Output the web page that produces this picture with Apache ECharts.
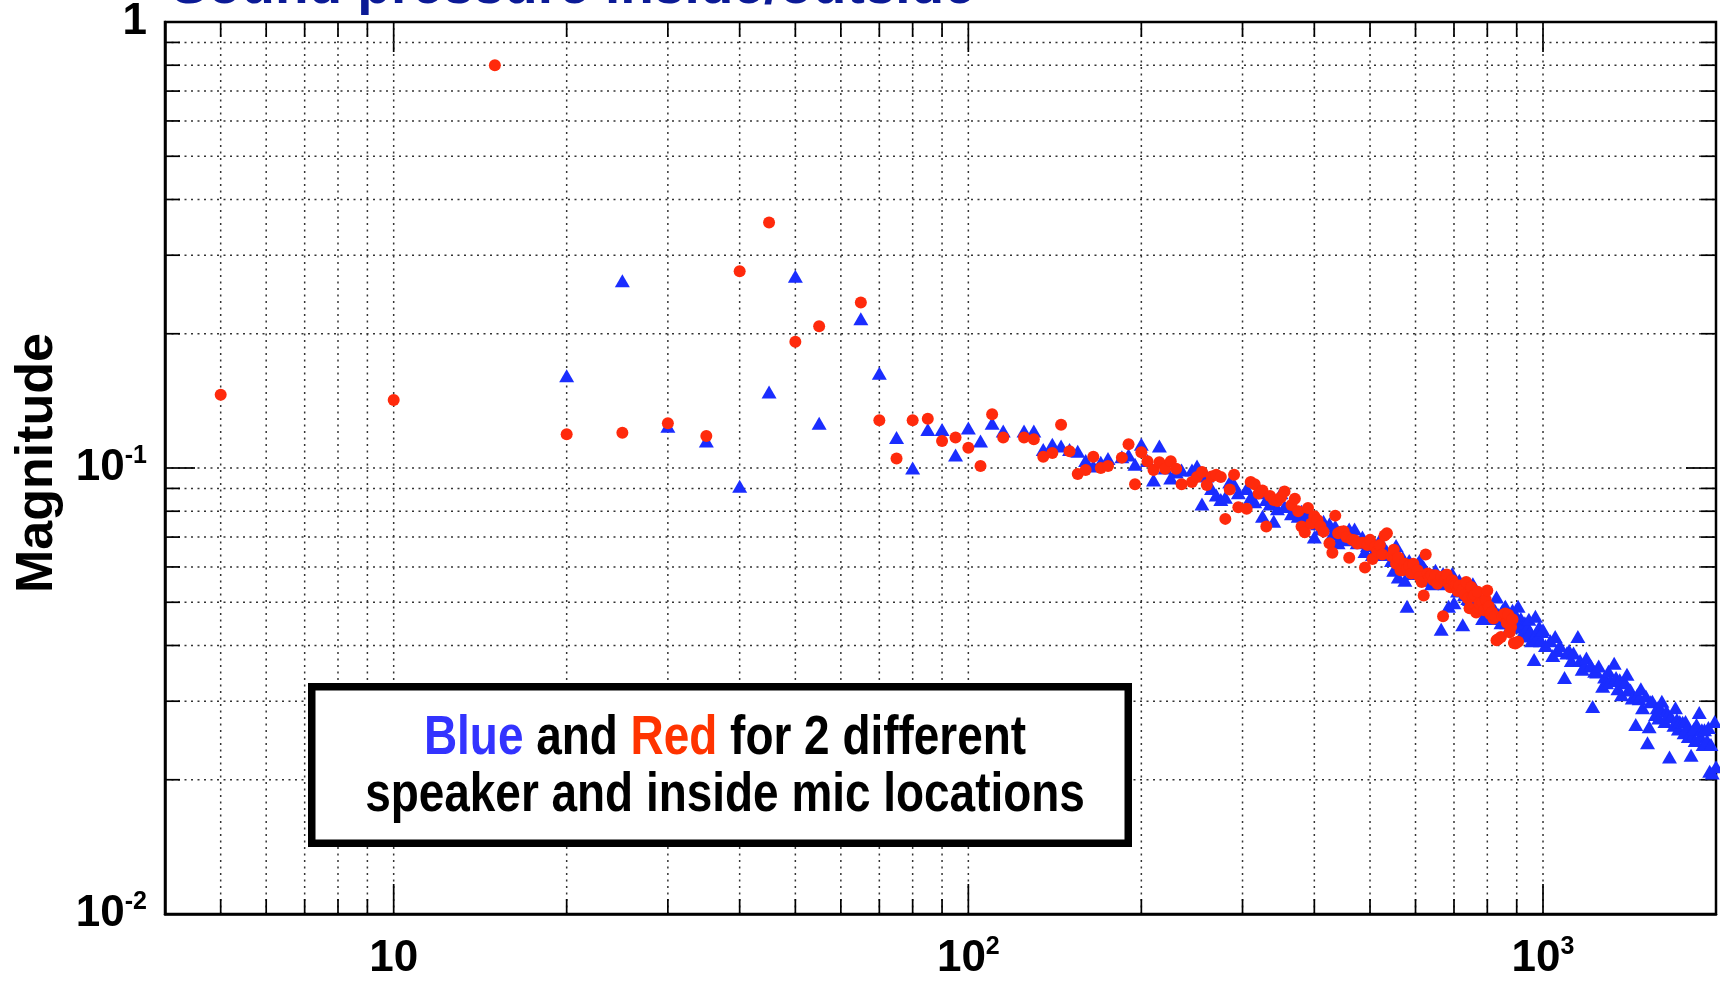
<!DOCTYPE html>
<html>
<head>
<meta charset="utf-8">
<title>Sound pressure inside/outside</title>
<script src="https://cdn.jsdelivr.net/npm/echarts@6/dist/echarts.min.js"></script>
<style>
  html, body { margin: 0; padding: 0; background: #fff; }
  #main { width: 1720px; height: 982px; }
</style>
</head>
<body>
<div id="main"></div>
<script>
// Frequency bins (Hz) and measured magnitudes, 5 Hz bins (10 Hz above 1 kHz),
// mains harmonics (multiples of 60 Hz) left out.
const blueHz = [
  20, 25, 30, 35, 40, 45, 50, 55,
  65, 70, 75, 80, 85, 90, 95, 100, 105, 110, 115,
  125, 130, 135, 140, 145, 150, 155, 160, 165, 170, 175,
  185, 190, 195, 200, 205, 210, 215, 220, 225, 230, 235,
  245, 250, 255, 260, 265, 270, 275, 280, 285, 290, 295,
  305, 310, 315, 320, 325, 330, 335, 340, 345, 350, 355,
  365, 370, 375, 380, 385, 390, 395, 400, 405, 410, 415,
  425, 430, 435, 440, 445, 450, 455, 460, 465, 470, 475,
  485, 490, 495, 500, 505, 510, 515, 520, 525, 530, 535,
  545, 550, 555, 560, 565, 570, 575, 580, 585, 590, 595,
  605, 610, 615, 620, 625, 630, 635, 640, 645, 650, 655,
  665, 670, 675, 680, 685, 690, 695, 700, 705, 710, 715,
  725, 730, 735, 740, 745, 750, 755, 760, 765, 770, 775,
  785, 790, 795, 800, 805, 810, 815, 820, 825, 830, 835,
  845, 850, 855, 860, 865, 870, 875, 880, 885, 890, 895,
  905, 910, 915, 920, 925, 930, 935, 940, 945, 950, 955,
  965, 970, 975, 980, 985, 990, 995, 1000,
  1010, 1030, 1040, 1050, 1060, 1070,
  1090, 1100, 1110, 1120, 1130,
  1150, 1160, 1170, 1180, 1190,
  1210, 1220, 1230, 1240, 1250,
  1270, 1280, 1290, 1300, 1310,
  1330, 1340, 1350, 1360, 1370,
  1390, 1400, 1410, 1420, 1430,
  1450, 1460, 1470, 1480, 1490,
  1510, 1520, 1530, 1540, 1550,
  1570, 1580, 1590, 1600, 1610,
  1630, 1640, 1650, 1660, 1670,
  1690, 1700, 1710, 1720, 1730,
  1750, 1760, 1770, 1780, 1790,
  1810, 1820, 1830, 1840, 1850,
  1870, 1880, 1890, 1900, 1910,
  1930, 1940, 1950, 1960, 1970,
  1990, 2000
];
const blueMag = [
  0.161, 0.263, 0.124, 0.115, 0.091, 0.148, 0.269, 0.126,
  0.216, 0.163, 0.117, 0.100, 0.122, 0.122, 0.107, 0.123, 0.115, 0.126, 0.121,
  0.121, 0.121, 0.110, 0.113, 0.112, 0.110, 0.109, 0.104, 0.101, 0.103, 0.105,
  0.106, 0.107, 0.102, 0.113, 0.104, 0.094, 0.112, 0.100, 0.095, 0.098, 0.099,
  0.099, 0.101, 0.083, 0.096, 0.090, 0.087, 0.085, 0.086, 0.093, 0.092, 0.088,
  0.090, 0.086, 0.084, 0.088, 0.078, 0.085, 0.083, 0.076, 0.081, 0.088, 0.082,
  0.079, 0.081, 0.078, 0.080, 0.0765, 0.079, 0.077, 0.070, 0.075, 0.073, 0.076,
  0.075, 0.071, 0.074, 0.068, 0.070, 0.072, 0.069, 0.073, 0.071, 0.073, 0.068,
  0.070, 0.065, 0.067, 0.068, 0.064, 0.067, 0.066, 0.069, 0.064, 0.066, 0.065,
  0.062, 0.059, 0.067, 0.057, 0.061, 0.063, 0.056, 0.049, 0.062, 0.060, 0.058,
  0.061, 0.062, 0.058, 0.060, 0.059, 0.056, 0.058, 0.055, 0.057, 0.059, 0.056,
  0.0435, 0.058, 0.055, 0.057, 0.049, 0.056, 0.058, 0.0499, 0.055, 0.053, 0.056,
  0.0445, 0.052, 0.054, 0.051, 0.0507, 0.053, 0.055, 0.050, 0.052, 0.049, 0.050,
  0.046, 0.051, 0.049, 0.048, 0.050, 0.047, 0.049, 0.046, 0.048, 0.0514, 0.047,
  0.045, 0.048, 0.046, 0.049, 0.045, 0.047, 0.044, 0.046, 0.048, 0.045, 0.047,
  0.049, 0.044, 0.046, 0.0447, 0.043, 0.045, 0.042, 0.044, 0.0458, 0.043, 0.041,
  0.0372, 0.0465, 0.0427, 0.042, 0.044, 0.041, 0.043, 0.0434,
  0.040, 0.041, 0.038, 0.0419, 0.039, 0.040,
  0.0339, 0.0385, 0.039, 0.037, 0.0385,
  0.0419, 0.037, 0.0354, 0.036, 0.0375,
  0.0361, 0.0292, 0.035, 0.0349, 0.036,
  0.0324, 0.034, 0.033, 0.035, 0.0334,
  0.0365, 0.0339, 0.032, 0.0335, 0.031,
  0.033, 0.0345, 0.032, 0.0318, 0.0305,
  0.0266, 0.031, 0.0304, 0.032, 0.029,
  0.0308, 0.0242, 0.0263, 0.0299, 0.030,
  0.028, 0.029, 0.0275, 0.0289, 0.030,
  0.027, 0.0285, 0.028, 0.0225, 0.0277,
  0.0265, 0.029, 0.0273, 0.026, 0.027,
  0.0269, 0.0255, 0.027, 0.0262, 0.025,
  0.0227, 0.025, 0.026, 0.0245, 0.0266,
  0.0283, 0.025, 0.0259, 0.024, 0.0259,
  0.0245, 0.0262, 0.0209, 0.024, 0.0207,
  0.027, 0.0214
];

const redHz = [
  5, 10, 15, 20, 25, 30, 35, 40, 45, 50, 55,
  65, 70, 75, 80, 85, 90, 95, 100, 105, 110, 115,
  125, 130, 135, 140, 145, 150, 155, 160, 165, 170, 175,
  185, 190, 195, 200, 205, 210, 215, 220, 225, 230, 235,
  245, 250, 255, 260, 265, 270, 275, 280, 285, 290, 295,
  305, 310, 315, 320, 325, 330, 335, 340, 345, 350, 355,
  365, 370, 375, 380, 385, 390, 395, 400, 405, 410, 415,
  425, 430, 435, 440, 445, 450, 455, 460, 465, 470, 475,
  485, 490, 495, 500, 505, 510, 515, 520, 525, 530, 535,
  545, 550, 555, 560, 565, 570, 575, 580, 585, 590, 595,
  605, 610, 615, 620, 625, 630, 635, 640, 645, 650, 655,
  665, 670, 675, 680, 685, 690, 695, 700, 705, 710, 715,
  725, 730, 735, 740, 745, 750, 755, 760, 765, 770, 775,
  785, 790, 795, 800, 805, 810, 815, 820, 825, 830, 835,
  845, 850, 855, 860, 865, 870, 875, 880, 885, 890, 895,
  905
];
const redMag = [
  0.146, 0.142, 0.80, 0.119, 0.120, 0.126, 0.118, 0.276, 0.355, 0.192, 0.208,
  0.235, 0.128, 0.105, 0.128, 0.129, 0.115, 0.117, 0.111, 0.101, 0.132, 0.117,
  0.117, 0.116, 0.106, 0.108, 0.125, 0.109, 0.097, 0.099, 0.106, 0.100, 0.101,
  0.1055, 0.113, 0.092, 0.1085, 0.1035, 0.099, 0.103, 0.0996, 0.1035, 0.0996, 0.092,
  0.093, 0.0955, 0.098, 0.0916, 0.0957, 0.0966, 0.0955, 0.0769, 0.0895, 0.0966, 0.0817,
  0.081, 0.093, 0.092, 0.0877, 0.089, 0.0739, 0.0865, 0.0848, 0.0843, 0.086, 0.0886,
  0.0826, 0.0853, 0.080, 0.0739, 0.0718, 0.0813, 0.0751, 0.078, 0.0765, 0.074, 0.072,
  0.0678, 0.0646, 0.0782, 0.0714, 0.072, 0.0721, 0.070, 0.0629, 0.069, 0.0689, 0.0677,
  0.068, 0.0598, 0.0672, 0.069, 0.0625, 0.0666, 0.065, 0.0672, 0.064, 0.0706, 0.0714,
  0.0635, 0.0656, 0.061, 0.063, 0.059, 0.059, 0.061, 0.0595, 0.0604, 0.058, 0.061,
  0.059, 0.057, 0.0555, 0.0518, 0.064, 0.058, 0.057, 0.0575, 0.056, 0.0575, 0.055,
  0.057, 0.0465, 0.056, 0.0577, 0.055, 0.054, 0.056, 0.055, 0.0545, 0.053, 0.0545,
  0.0535, 0.052, 0.0555, 0.051, 0.0485, 0.0541, 0.0515, 0.052, 0.0474, 0.0528, 0.0497,
  0.050, 0.048, 0.0507, 0.0531, 0.0489, 0.047, 0.0475, 0.046, 0.0465, 0.0411, 0.0413,
  0.0418, 0.0465, 0.047, 0.0472, 0.045, 0.0469, 0.0428, 0.044, 0.0458, 0.0405, 0.0404,
  0.0408
];

// Axis ranges and grid/tick positions
const xRange = [4, 2000];
const yRange = [0.01, 1];
const xMajorTicks = [10, 100, 1000];
const xMinorTicks = [5, 6, 7, 8, 9, 20, 30, 40, 50, 60, 70, 80, 90,
                     200, 300, 400, 500, 600, 700, 800, 900];
const yMajorTicks = [0.1];
const yMinorTicks = [0.02, 0.03, 0.04, 0.05, 0.06, 0.07, 0.08, 0.09,
                     0.2, 0.3, 0.4, 0.5, 0.6, 0.7, 0.8, 0.9];

const titleText = 'Sound pressure inside/outside';
const yAxisTitle = 'Magnitude';

const BOLD = '"Liberation Sans", Arial, Helvetica, sans-serif';

// guide items: [x, y, kind]  kind 0/1 = vertical minor/major, 2/3 = horizontal minor/major
const guides = []
  .concat(xMinorTicks.map(v => [v, yRange[0], 0]))
  .concat(xMajorTicks.map(v => [v, yRange[0], 1]))
  .concat(yMinorTicks.map(v => [xRange[0], v, 2]))
  .concat(yMajorTicks.map(v => [xRange[0], v, 3]));

function renderGuide(params, api) {
  const kind = api.value(2);
  const dotted = { stroke: '#333', lineWidth: 1.5, lineDash: [2, 4.5] };
  const solid = { stroke: '#000', lineWidth: 1.7 };
  const len = (kind === 1 || kind === 3) ? 30 : 15;
  let a, b;
  if (kind < 2) {
    const v = api.value(0);
    a = api.coord([v, yRange[0]]);
    b = api.coord([v, yRange[1]]);
    return {
      type: 'group',
      children: [
        { type: 'line', shape: { x1: a[0], y1: a[1], x2: b[0], y2: b[1] }, style: dotted },
        { type: 'line', shape: { x1: a[0], y1: a[1], x2: a[0], y2: a[1] - len }, style: solid },
        { type: 'line', shape: { x1: b[0], y1: b[1], x2: b[0], y2: b[1] + len }, style: solid }
      ]
    };
  }
  const v = api.value(1);
  a = api.coord([xRange[0], v]);
  b = api.coord([xRange[1], v]);
  return {
    type: 'group',
    children: [
      { type: 'line', shape: { x1: a[0], y1: a[1], x2: b[0], y2: b[1] }, style: dotted },
      { type: 'line', shape: { x1: a[0], y1: a[1], x2: a[0] + len, y2: a[1] }, style: solid },
      { type: 'line', shape: { x1: b[0], y1: b[1], x2: b[0] - len, y2: b[1] }, style: solid }
    ]
  };
}

// "10" with a superscript exponent
function powerLabel(v) {
  const lg = Math.log10(v);
  const e = Math.round(lg);
  if (Math.abs(lg - e) > 1e-6) return '';
  if (e === 0) return '{b|1}';
  if (e === 1) return '{b|10}';
  return '{b|10}{s|' + e + '}';
}
const powerRich = {
  b: { fontFamily: BOLD, fontWeight: 'bold', fontSize: 44, color: '#000', lineHeight: 48 },
  s: { fontFamily: BOLD, fontWeight: 'bold', fontSize: 25, color: '#000', lineHeight: 22, verticalAlign: 'top' }
};

const legendFont = { fontFamily: BOLD, fontWeight: 'bold', fontSize: 56, lineHeight: 57 };

const chart = echarts.init(document.getElementById('main'), null, { renderer: 'canvas' });

chart.setOption({
  animation: false,
  backgroundColor: '#fff',
  grid: {
    left: 165, right: 4, top: 22, bottom: 68,
    show: true, borderColor: '#000', borderWidth: 2.5, backgroundColor: '#fff'
  },
  xAxis: {
    type: 'log', logBase: 10, min: xRange[0], max: xRange[1],
    axisLine: { show: true, lineStyle: { color: '#000', width: 2.5 } },
    axisTick: { show: false },
    splitLine: { show: false },
    axisLabel: { formatter: powerLabel, rich: powerRich, margin: 21 }
  },
  yAxis: {
    type: 'log', logBase: 10, min: yRange[0], max: yRange[1],
    axisLine: { show: true, lineStyle: { color: '#000', width: 2.5 } },
    axisTick: { show: false },
    splitLine: { show: false },
    axisLabel: { formatter: powerLabel, rich: powerRich, margin: 18 }
  },
  series: [
    {
      type: 'custom', name: 'guides', data: guides, renderItem: renderGuide,
      encode: { x: 0, y: 1 }, z: 1, silent: true
    },
    {
      type: 'scatter', name: 'Blue', z: 3,
      data: blueHz.map((f, i) => [f, blueMag[i]]),
      symbol: 'triangle', symbolSize: [15, 13],
      itemStyle: { color: '#1a2dff', opacity: 1 }
    },
    {
      type: 'scatter', name: 'Red', z: 4,
      data: redHz.map((f, i) => [f, redMag[i]]),
      symbol: 'circle', symbolSize: 12,
      itemStyle: { color: '#ff2a0c', opacity: 1 }
    }
  ],
  graphic: [
    {
      type: 'text', x: 171, y: -12, z: 10,
      style: {
        text: titleText, font: 'bold 55px ' + BOLD, fill: '#0b1a96',
        textAlign: 'left', textVerticalAlign: 'middle'
      }
    },
    {
      type: 'text', x: 38, y: 463, rotation: Math.PI / 2, z: 10,
      style: {
        text: yAxisTitle, font: 'bold 52px ' + BOLD, fill: '#000',
        textAlign: 'center', textVerticalAlign: 'middle'
      }
    },
    {
      type: 'rect', z: 10,
      shape: { x: 311.75, y: 686.75, width: 816.5, height: 156.5 },
      style: { fill: '#fff', stroke: '#000', lineWidth: 7.5 }
    },
    {
      // condensed bold lettering for the note box
      type: 'text', x: 725, y: 767, z: 11, scaleX: 0.82,
      style: {
        text: '{c|Blue} {k|and} {r|Red} {k|for 2 different}\n{k|speaker and inside mic locations}',
        textAlign: 'center', textVerticalAlign: 'middle',
        rich: {
          c: Object.assign({ fill: '#3333ff', color: '#3333ff' }, legendFont),
          r: Object.assign({ fill: '#ff3300', color: '#ff3300' }, legendFont),
          k: Object.assign({ fill: '#000', color: '#000' }, legendFont)
        },
        font: 'bold 56px ' + BOLD, fill: '#000'
      }
    }
  ]
});
</script>
</body>
</html>
